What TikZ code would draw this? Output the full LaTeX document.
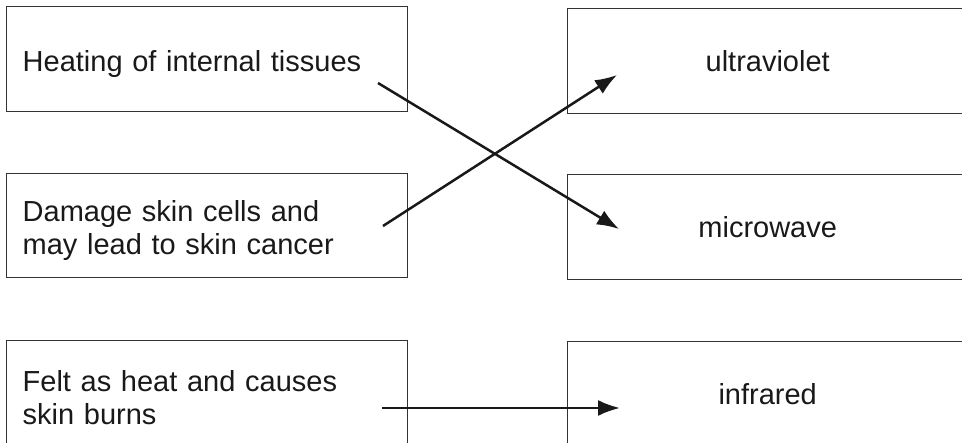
\documentclass[tikz,border=0pt]{standalone}
\usepackage{fontspec}
\setmainfont{Liberation Sans}
\usetikzlibrary{arrows.meta}

\begin{document}
\begin{tikzpicture}[
			x=1pt, y=-1pt,
			every node/.style={font=\fontsize{29}{33}\selectfont, text=black!90},
			effect/.style={draw=black!80, line width=1.4pt, anchor=north west,
			minimum width=401pt, minimum height=105pt, text width=369pt,
			inner xsep=16pt, inner ysep=0pt, align=left,
			execute at begin node={\rule{0pt}{30pt}}},
			wave/.style={draw=black!80, line width=1.4pt, anchor=north west,
			minimum width=400pt, minimum height=105pt, align=center},
			link/.style={>={Latex[length=22pt,width=16pt]}, draw=black!90, line width=2.5pt, ->}
			]
			\useasboundingbox (0,0) rectangle (962,443);
			% effects on the left
			\node[effect] (heating) at (6,6) {Heating of internal tissues};
			\node[effect, minimum height=104pt] (damage) at (6,173)
				{Damage skin cells and\\may lead to skin cancer};
			\node[effect] (felt) at (6,340) {Felt as heat and causes\\skin burns};
			% radiations on the right
			\node[wave] (uv) at (567,8) {ultraviolet};
			\node[wave] (micro) at (567,174) {microwave};
			\node[wave] (ir) at (567,341) {infrared};
			% arrow ends
			\coordinate (heating-out) at (378,83);
			\coordinate (micro-in) at (619,229);
			\coordinate (damage-out) at (383,226);
			\coordinate (uv-in) at (617,75);
			\coordinate (felt-out) at (382,408);
			\coordinate (ir-in) at (620,408);
			\draw[link] (heating-out) -- (micro-in);
			\draw[link] (damage-out) -- (uv-in);
			\draw[link] (felt-out) -- (ir-in);
		\end{tikzpicture}
\end{document}
